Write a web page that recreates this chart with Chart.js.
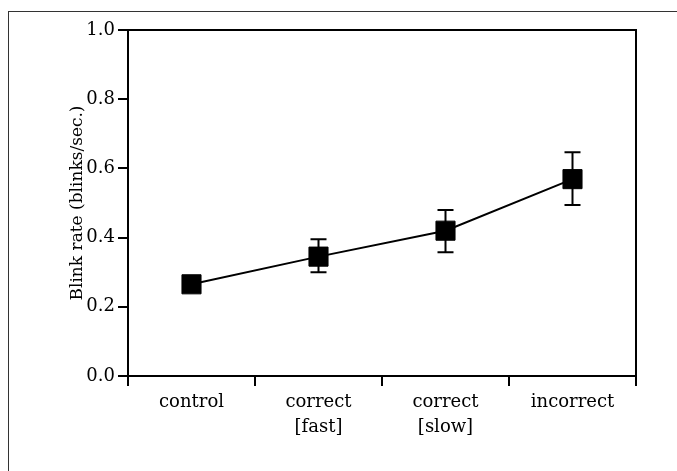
<!DOCTYPE html>
<html>
<head>
<meta charset="utf-8">
<script src="https://cdn.jsdelivr.net/npm/chart.js@4.4.1/dist/chart.umd.min.js"></script>
<style>
  html, body { margin: 0; padding: 0; background: #fff; }
  #wrap { position: relative; width: 677px; height: 471px; }
  #frame {
    position: absolute; left: 8px; top: 11px; right: 0; bottom: 0;
    border-left: 1px solid #333; border-top: 1px solid #333;
    pointer-events: none;
  }
</style>
</head>
<body>
<div id="wrap">
  <canvas id="chart" width="677" height="471"></canvas>
  <div id="frame"></div>
</div>
<script>
// data
const categories = [['control'], ['correct', '[fast]'], ['correct', '[slow]'], ['incorrect']];
const blinkRate = [0.265, 0.345, 0.42, 0.569];
const errUpper = [null, 0.395, 0.48, 0.647];
const errLower = [null, 0.30, 0.358, 0.494];
const yTicks = [0.0, 0.2, 0.4, 0.6, 0.8, 1.0];

const serif = '"DejaVu Serif", "Liberation Serif", serif';

// error bars + top/right border of the plot box
const errorBars = {
  id: 'errorBars',
  afterDatasetsDraw(chart) {
    const ctx = chart.ctx;
    const x = chart.scales.x, y = chart.scales.y;
    ctx.save();
    ctx.strokeStyle = '#000';
    ctx.lineWidth = 2;
    blinkRate.forEach((v, i) => {
      if (errUpper[i] == null) return;
      const px = x.getPixelForValue(i);
      const top = y.getPixelForValue(errUpper[i]);
      const bot = y.getPixelForValue(errLower[i]);
      ctx.beginPath();
      ctx.moveTo(px, top); ctx.lineTo(px, bot);
      ctx.moveTo(px - 8, top); ctx.lineTo(px + 8, top);
      ctx.moveTo(px - 8, bot); ctx.lineTo(px + 8, bot);
      ctx.stroke();
    });
    ctx.restore();
  },
  beforeDatasetsDraw(chart) {
    const { ctx, chartArea: a } = chart;
    ctx.save();
    ctx.strokeStyle = '#000';
    ctx.lineWidth = 2;
    ctx.beginPath();
    ctx.moveTo(a.left, a.top);
    ctx.lineTo(a.right, a.top);
    ctx.lineTo(a.right, a.bottom);
    ctx.stroke();
    ctx.restore();
  }
};

new Chart(document.getElementById('chart'), {
  type: 'line',
  data: {
    labels: categories,
    datasets: [{
      data: blinkRate,
      borderColor: '#000',
      borderWidth: 2,
      backgroundColor: '#000',
      pointStyle: 'rect',
      pointRadius: 13.5,
      pointBorderWidth: 1,
      tension: 0
    }]
  },
  options: {
    responsive: false,
    animation: false,
    layout: { padding: { left: 67, top: 30, right: 41, bottom: 0 } },
    plugins: { legend: { display: false }, tooltip: { enabled: false } },
    scales: {
      x: {
        type: 'category',
        offset: true,
        grid: { offset: true, drawOnChartArea: false, drawTicks: true, tickLength: 10, color: '#000', lineWidth: 2 },
        border: { display: true, color: '#000', width: 2 },
        ticks: { color: '#000', font: { family: serif, size: 18, lineHeight: 1.38 }, padding: 4, maxRotation: 0 },
        afterFit(s) { s.height = 95; }
      },
      y: {
        min: 0, max: 1,
        afterBuildTicks(s) { s.ticks = yTicks.map(v => ({ value: v })); },
        grid: { drawOnChartArea: false, drawTicks: true, tickLength: 10, color: '#000', lineWidth: 2 },
        border: { display: true, color: '#000', width: 2 },
        ticks: { color: '#000', font: { family: serif, size: 18 }, padding: 3, callback: v => v.toFixed(1) },
        title: { display: true, text: 'Blink rate (blinks/sec.)', color: '#000', font: { family: serif, size: 17 }, padding: { top: 0, bottom: 4 } },
        afterFit(s) { s.width = 61; }
      }
    }
  },
  plugins: [errorBars]
});
</script>
</body>
</html>
